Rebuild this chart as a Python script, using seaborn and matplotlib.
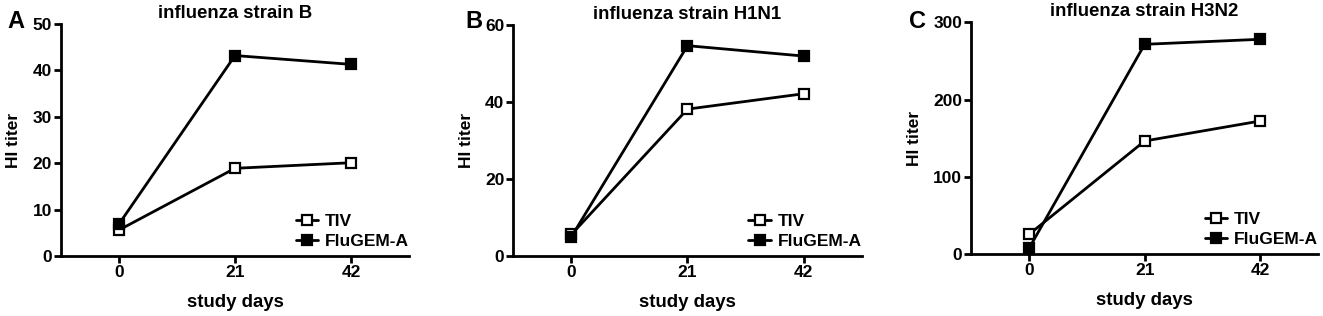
import matplotlib
matplotlib.use("Agg")
import matplotlib.pyplot as plt
import seaborn as sns
import pandas as pd

days = [0, 21, 42]
panel_letters = ["A", "B", "C"]
titles = ["influenza strain B", "influenza strain H1N1", "influenza strain H3N2"]
tiv_B = [5.6, 18.9, 20.1]
flugem_B = [6.9, 43.2, 41.3]
tiv_H1N1 = [5.6, 38.2, 42.2]
flugem_H1N1 = [5.0, 54.7, 52.0]
tiv_H3N2 = [25.5, 146.3, 172.2]
flugem_H3N2 = [7.4, 271.5, 278.0]
y_maxes = [50, 60, 300]
y_steps = [10, 20, 100]
x_ticks = [0, 21, 42]

sns.set_theme(style="ticks")
plt.rcParams['font.family'] = ['Liberation Sans', 'DejaVu Sans']
plt.rcParams['font.weight'] = 'bold'
for k in ['text.color', 'axes.labelcolor', 'xtick.color', 'ytick.color', 'axes.edgecolor']:
    plt.rcParams[k] = 'black'

W, H = 1323, 316
fig = plt.figure(figsize=(W / 100, H / 100), dpi=100)

# axes boxes in pixels: left, right, top, bottom
boxes = [(61, 409, 24, 256), (513.3, 861.7, 25.3, 256), (971.3, 1318, 22.3, 254)]
letter_x = [7, 465, 909]
series = [(tiv_B, flugem_B), (tiv_H1N1, flugem_H1N1), (tiv_H3N2, flugem_H3N2)]

for i, (box, (tiv, flu)) in enumerate(zip(boxes, series)):
    l, r, t, b = box
    w = r - l
    ax = fig.add_axes([l / W, (H - b) / H, w / W, (b - t) / H])
    df_t = pd.DataFrame({"day": days, "titer": tiv})
    df_f = pd.DataFrame({"day": days, "titer": flu})
    sns.lineplot(data=df_t, x="day", y="titer", ax=ax, color="black", lw=2.0,
                 marker="s", markersize=7.5, markerfacecolor="white",
                 markeredgecolor="black", markeredgewidth=1.6, label="TIV", clip_on=False)
    sns.lineplot(data=df_f, x="day", y="titer", ax=ax, color="black", lw=2.0,
                 marker="s", markersize=7.5, markerfacecolor="black",
                 markeredgecolor="black", markeredgewidth=1.6, label="FluGEM-A", clip_on=False)
    ax.set_xlim(-10.5, 52.5)
    ax.set_ylim(0, y_maxes[i])
    ax.set_xticks(x_ticks)
    ax.set_yticks(list(range(0, y_maxes[i] + 1, y_steps[i])))
    for s in ["top", "right"]:
        ax.spines[s].set_visible(False)
    for s in ["left", "bottom"]:
        ax.spines[s].set_linewidth(2.0)
        ax.spines[s].set_color("black")
    ax.tick_params(axis="both", direction="out", length=5, width=2.0, colors="black",
                   labelsize=12.5, pad=1.5)
    for lab in ax.get_xticklabels() + ax.get_yticklabels():
        lab.set_fontweight("bold")
    ax.set_xlabel("study days", fontsize=13.4, fontweight="bold", labelpad=10)
    ax.set_ylabel("HI titer", fontsize=12.5, fontweight="bold", labelpad=8)
    ax.set_title(titles[i], fontsize=13.4, fontweight="bold", pad=4.5)
    fig.text(letter_x[i] / W, 1 - 10 / H, panel_letters[i], fontsize=17,
             fontweight="bold", va="top", ha="left")
    leg = ax.legend(loc="lower right", bbox_to_anchor=(1.0 + 7 / w, 0.0), frameon=False,
                    prop={"weight": "bold", "size": 12.5}, handlelength=1.3,
                    handletextpad=0.4, borderaxespad=0.0, labelspacing=0.3)

fig.savefig("out.png", dpi=100)
